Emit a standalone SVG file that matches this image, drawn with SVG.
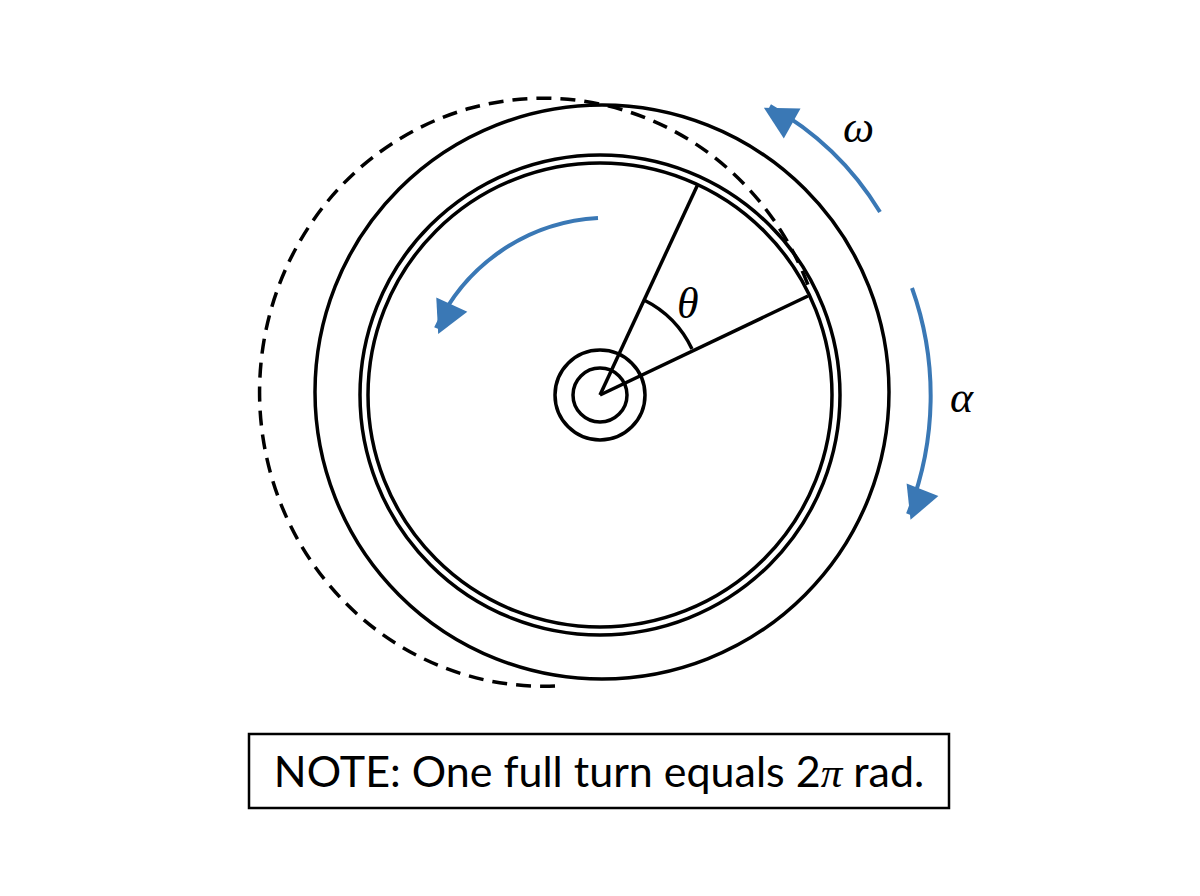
<svg xmlns="http://www.w3.org/2000/svg" width="1200" height="896" viewBox="0 0 1200 896">
<style>
.k{fill:none;stroke:#000;stroke-width:3.5}
.b{fill:none;stroke:#3a78b5;stroke-width:4}
.t{font-family:Lato,"Liberation Sans",sans-serif;fill:#000}
.m{font-family:"Liberation Serif",serif;font-style:italic;fill:#000;font-size:44px}
</style>
<defs>
<marker id="ah" viewBox="0 0 10 10" refX="5" refY="5" markerWidth="9" markerHeight="9" markerUnits="userSpaceOnUse" orient="auto" overflow="visible">
<path d="M-26,-14 L10,5 L-26,24 Z" fill="#3a78b5" transform="translate(0,-5)"/>
</marker>
</defs>
<rect width="1200" height="896" fill="#fff"/>
<g id="wheel">
<circle class="k" cx="602" cy="392" r="287"/>
<circle class="k" cx="600" cy="395" r="240" stroke-width="3"/>
<circle class="k" cx="600" cy="395" r="232" stroke-width="2.5"/>
</g>
<g id="ghost">
<path class="k" stroke-dasharray="15,9" d="M555,686 A284,294 0 1 1 808,285"/>
</g>
<g id="hub">
<circle class="k" cx="600" cy="395" r="45"/>
<circle class="k" cx="600" cy="395" r="27"/>
</g>
<g id="angle">
<line class="k" stroke-width="2" x1="600" y1="395" x2="698" y2="184"/>
<line class="k" stroke-width="2" x1="600" y1="395" x2="808" y2="296"/>
<path class="k" stroke-width="2" d="M644,300 A105,105 0 0 1 692,349"/>
<text class="m" x="677" y="318">θ</text>
</g>
<g id="connectors">
<path class="b" d="M598,218 A190,190 0 0 0 436,328" marker-end="url(#ah)"/>
<path class="b" d="M880,212 A300,300 0 0 0 770,106" marker-end="url(#ah)"/>
<path class="b" d="M912,288 A320,320 0 0 1 908,514" marker-end="url(#ah)"/>
</g>
<text class="m" x="843" y="142">ω</text>
<text class="m" x="950" y="412">α</text>
<g id="note">
<rect x="249" y="734" width="700" height="74" fill="#fff" stroke="#000" stroke-width="2.5"/>
<text class="t" x="599" y="787" font-size="43" text-anchor="middle">NOTE: One full turn equals 2<tspan font-family="Liberation Serif,serif" font-style="italic">π</tspan> rad.</text>
</g>
</svg>
